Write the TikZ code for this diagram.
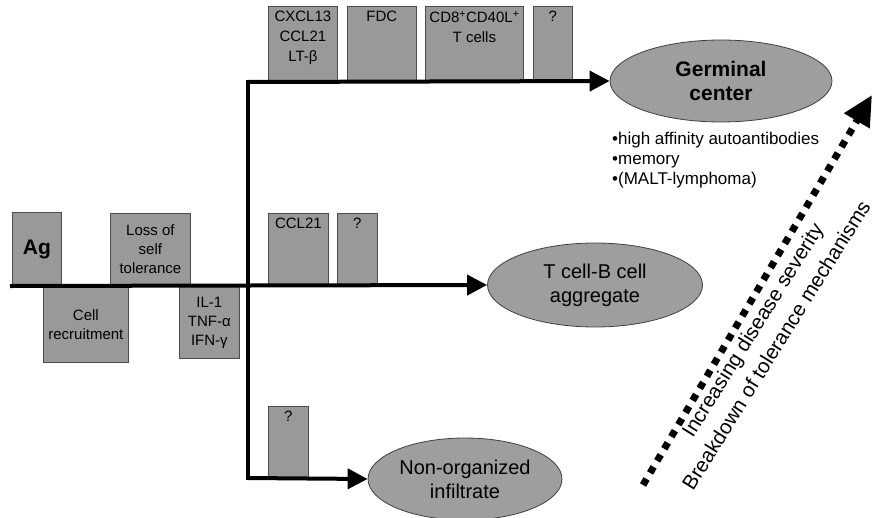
\documentclass[tikz,border=0pt]{standalone}
\usepackage{fontspec}
\setmainfont{Liberation Sans}
\usetikzlibrary{arrows.meta}
\usetikzlibrary{shapes.geometric}
\tikzset{%
    bx/.style={draw=black!70,fill=black!40,line width=0.8pt,inner sep=0pt},
    lbl/.style={align=center,inner sep=3pt,font=\fontsize{15}{19}\selectfont},
    toplbl/.style={lbl,anchor=north,inner sep=5pt,font=\fontsize{15}{20}\selectfont},
    ell/.style={ellipse,draw=black!75,fill=black!38,line width=0.8pt,inner sep=0pt,align=center,font=\fontsize{20}{24}\selectfont},
    ln/.style={line width=4pt,line cap=rect},
    flow/.style={line width=4pt,-{Triangle[length=20pt,width=20pt]}},
    sev/.style={line width=7pt,dash pattern=on 7pt off 7pt,-{Triangle[length=30pt,width=28pt]}},
    rot/.style={rotate=58,inner sep=0pt,font=\fontsize{20.5}{24}\selectfont}
}
\begin{document}
\begin{tikzpicture}[x=1pt,y=-1pt]
        \useasboundingbox (0,0) rectangle (881,517);

        \coordinate (start) at (10,286);
        \coordinate (split) at (248,286);
        \coordinate (top) at (248,82);
        \coordinate (bot) at (248,478);

        % left part
        \node[bx,anchor=south west,minimum width=49pt,minimum height=73pt,font=\fontsize{21}{24}\selectfont\bfseries] (ag) at (12,286) {Ag};
        \node[bx,anchor=south west,minimum width=80pt,minimum height=72pt,lbl] (loss) at (110,286) {Loss of\\self\\tolerance};
        \node[bx,anchor=north west,minimum width=85pt,minimum height=76pt,lbl] (rec) at (43,286) {Cell\\recruitment};
        \node[bx,anchor=north west,minimum width=60pt,minimum height=72pt,lbl] (il) at (179,286) {IL-1\\TNF-α\\IFN-γ};

        % upper branch
        \node[bx,anchor=south west,minimum width=69pt,minimum height=75pt,label={[toplbl]north:CXCL13\\CCL21\\LT-β}] (cxcl) at (268,82) {};
        \node[bx,anchor=south west,minimum width=69pt,minimum height=75pt,label={[toplbl]north:FDC}] (fdc) at (347,82) {};
        \node[bx,anchor=south west,minimum width=98pt,minimum height=75pt,label={[toplbl]north:CD8\textsuperscript{+}CD40L\textsuperscript{+}\\T cells}] (cd) at (425,82) {};
        \node[bx,anchor=south west,minimum width=39pt,minimum height=75pt,label={[toplbl]north:?}] (qa) at (533,82) {};

        % middle branch
        \node[bx,anchor=south west,minimum width=60pt,minimum height=72pt,label={[toplbl]north:CCL21}] (ccl) at (268,286) {};
        \node[bx,anchor=south west,minimum width=40pt,minimum height=72pt,label={[toplbl]north:?}] (qb) at (337,286) {};

        % lower branch
        \node[bx,anchor=south west,minimum width=40pt,minimum height=71pt,label={[toplbl]north:?}] (qc) at (268,478) {};

        \node[ell,minimum width=222pt,minimum height=82pt,font=\fontsize{21}{24}\selectfont\bfseries] (gc) at (721,81) {Germinal\\center};
        \node[ell,minimum width=215pt,minimum height=84pt] (tcb) at (595,285) {T cell-B cell\\aggregate};
        \node[ell,minimum width=194pt,minimum height=82pt] (noi) at (465,479) {Non-organized\\infiltrate};

        \node[anchor=north west,align=left,inner sep=0pt,font=\fontsize{17}{20}\selectfont] (out) at (612,132) {\textbullet high affinity autoantibodies\\\textbullet memory\\\textbullet(MALT-lymphoma)};

        \draw[ln] (top) -- (bot);
        \draw[flow] (start) -- (tcb.west);
        \draw[flow] (top) -- (gc.west);
        \draw[flow] (bot) -- (noi.west);

        % severity arrow
        \coordinate (lo) at (643,485);
        \coordinate (hi) at (872,95);
        \draw[sev] (lo) -- (hi);
        \node[rot] (inc) at (754,331) {Increasing disease severity};
        \node[rot] (brk) at (776,345) {Breakdown of tolerance mechanisms};
    \end{tikzpicture}
\end{document}
